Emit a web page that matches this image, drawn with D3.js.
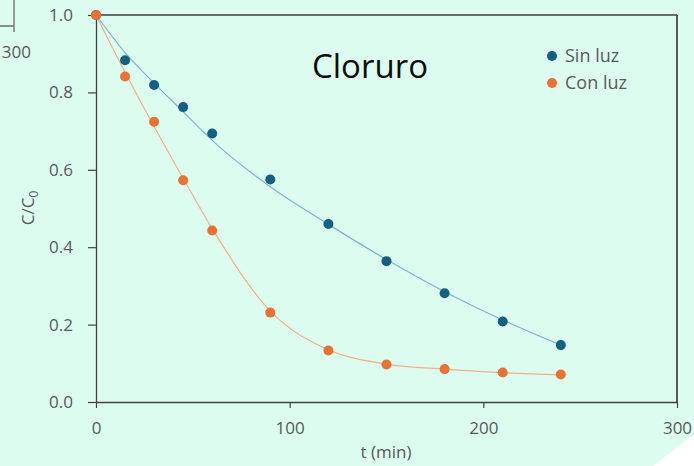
<!DOCTYPE html>
<html>
<head>
<meta charset="utf-8">
<script src="https://cdn.jsdelivr.net/npm/d3@7"></script>
<style>
  html, body { margin: 0; padding: 0; background: #dcfcf0; }
  svg { display: block; }
  text { font-family: "Open Sans", "Noto Sans", sans-serif; }
</style>
</head>
<body>
<svg id="chart" width="694" height="466"></svg>
<script>
// Sampling times (min)
const tiempos = [0, 15, 30, 45, 60, 90, 120, 150, 180, 210, 240];
// Measured C/C0
const sinLuz = [1.0, 0.883, 0.819, 0.762, 0.694, 0.575, 0.460, 0.364, 0.281, 0.208, 0.147];
const conLuz = [1.0, 0.841, 0.724, 0.573, 0.443, 0.231, 0.133, 0.097, 0.085, 0.076, 0.071];
// Fitted trend curves at the same times
const ajusteSinLuz = [1.0, 0.903, 0.824, 0.750, 0.676, 0.556, 0.459, 0.368, 0.285, 0.212, 0.147];
const ajusteConLuz = [1.0, 0.852, 0.712, 0.578, 0.448, 0.235, 0.135, 0.098, 0.085, 0.076, 0.070];
// Axis ticks
const xTicks = [0, 100, 200, 300];
const yTicks = [0, 0.2, 0.4, 0.6, 0.8, 1.0];

const series = [
  { name: "Sin luz", values: sinLuz, fit: ajusteSinLuz, color: "#156082", line: "#7fb3cc" },
  { name: "Con luz", values: conLuz, fit: ajusteConLuz, color: "#e97132", line: "#f2b08a" }
];

const svg = d3.select("#chart");
const W = 694, H = 466;
const plot = { left: 96, right: 677, top: 15, bottom: 402 };

const x = d3.scaleLinear().domain([0, 300]).range([plot.left, plot.right]);
const y = d3.scaleLinear().domain([0, 1]).range([plot.bottom, plot.top]);

svg.append("rect").attr("width", W).attr("height", H).attr("fill", "#dcfcf0");

// Edge of the neighbouring figure at the top-left corner
svg.append("path")
  .attr("d", "M14,0 V32 M0,26 H14")
  .attr("fill", "none").attr("stroke", "#6b6b6b").attr("stroke-width", 1.3);
svg.append("text")
  .attr("x", 31).attr("y", 58).attr("text-anchor", "end")
  .attr("font-size", 17).attr("fill", "#595959").text("300");

// Frame: top and right borders
svg.append("line")
  .attr("x1", plot.left).attr("x2", plot.right).attr("y1", plot.top).attr("y2", plot.top)
  .attr("stroke", "#404040").attr("stroke-width", 1.3);
svg.append("line")
  .attr("x1", plot.right).attr("x2", plot.right).attr("y1", plot.top).attr("y2", plot.bottom)
  .attr("stroke", "#555").attr("stroke-width", 2);

// Axes
const yAxis = d3.axisLeft(y).tickValues(yTicks).tickFormat(d3.format(".1f"))
  .tickSize(8).tickSizeOuter(0).tickPadding(15);
const xAxis = d3.axisBottom(x).tickValues(xTicks).tickFormat(d3.format("d"))
  .tickSize(6).tickSizeOuter(0).tickPadding(14);

const gy = svg.append("g").attr("transform", `translate(${plot.left},0)`).call(yAxis);
const gx = svg.append("g").attr("transform", `translate(0,${plot.bottom})`).call(xAxis);
[gx, gy].forEach(g => {
  g.select(".domain").attr("stroke", "#404040").attr("stroke-width", 1.3);
  g.selectAll(".tick line").attr("stroke", "#404040").attr("stroke-width", 1.2);
  g.selectAll(".tick text").attr("fill", "#595959").attr("font-size", 17)
    .attr("font-family", "\"Open Sans\", sans-serif");
});

// Axis titles
svg.append("text")
  .attr("x", 386).attr("y", 458).attr("text-anchor", "middle")
  .attr("font-size", 17).attr("fill", "#595959").text("t (min)");

const yTitle = svg.append("text")
  .attr("transform", "translate(34,208) rotate(-90)")
  .attr("text-anchor", "middle").attr("font-size", 17).attr("fill", "#595959");
yTitle.append("tspan").text("C/C");
yTitle.append("tspan").attr("font-size", 12).attr("dy", 4).text("0");

// Trend curves
const line = d3.line()
  .x((d, i) => x(tiempos[i]))
  .y(d => y(d))
  .curve(d3.curveMonotoneX);

series.forEach(s => {
  svg.append("path")
    .attr("d", line(s.fit))
    .attr("fill", "none").attr("stroke", s.line).attr("stroke-width", 1.2);
});

// Data points
series.forEach(s => {
  svg.append("g").selectAll("circle")
    .data(s.values)
    .join("circle")
    .attr("cx", (d, i) => x(tiempos[i]))
    .attr("cy", d => y(d))
    .attr("r", 5)
    .attr("fill", s.color);
});

// Title
svg.append("text")
  .attr("x", 370).attr("y", 78).attr("text-anchor", "middle")
  .attr("font-size", 33).attr("fill", "#0d0d0d").text("Cloruro");

// Legend
const legend = svg.append("g").attr("transform", "translate(552,56)");
series.forEach((s, i) => {
  const g = legend.append("g").attr("transform", `translate(0,${i * 27})`);
  g.append("circle").attr("r", 5).attr("fill", s.color);
  g.append("text").attr("x", 13).attr("y", 0).attr("dy", "0.35em")
    .attr("font-size", 18).attr("fill", "#595959").text(s.name);
});

// Cut corner at the bottom right
svg.append("path")
  .attr("d", "M653,466 L694,434 L694,466 Z")
  .attr("fill", "#ffffff");
</script>
</body>
</html>
